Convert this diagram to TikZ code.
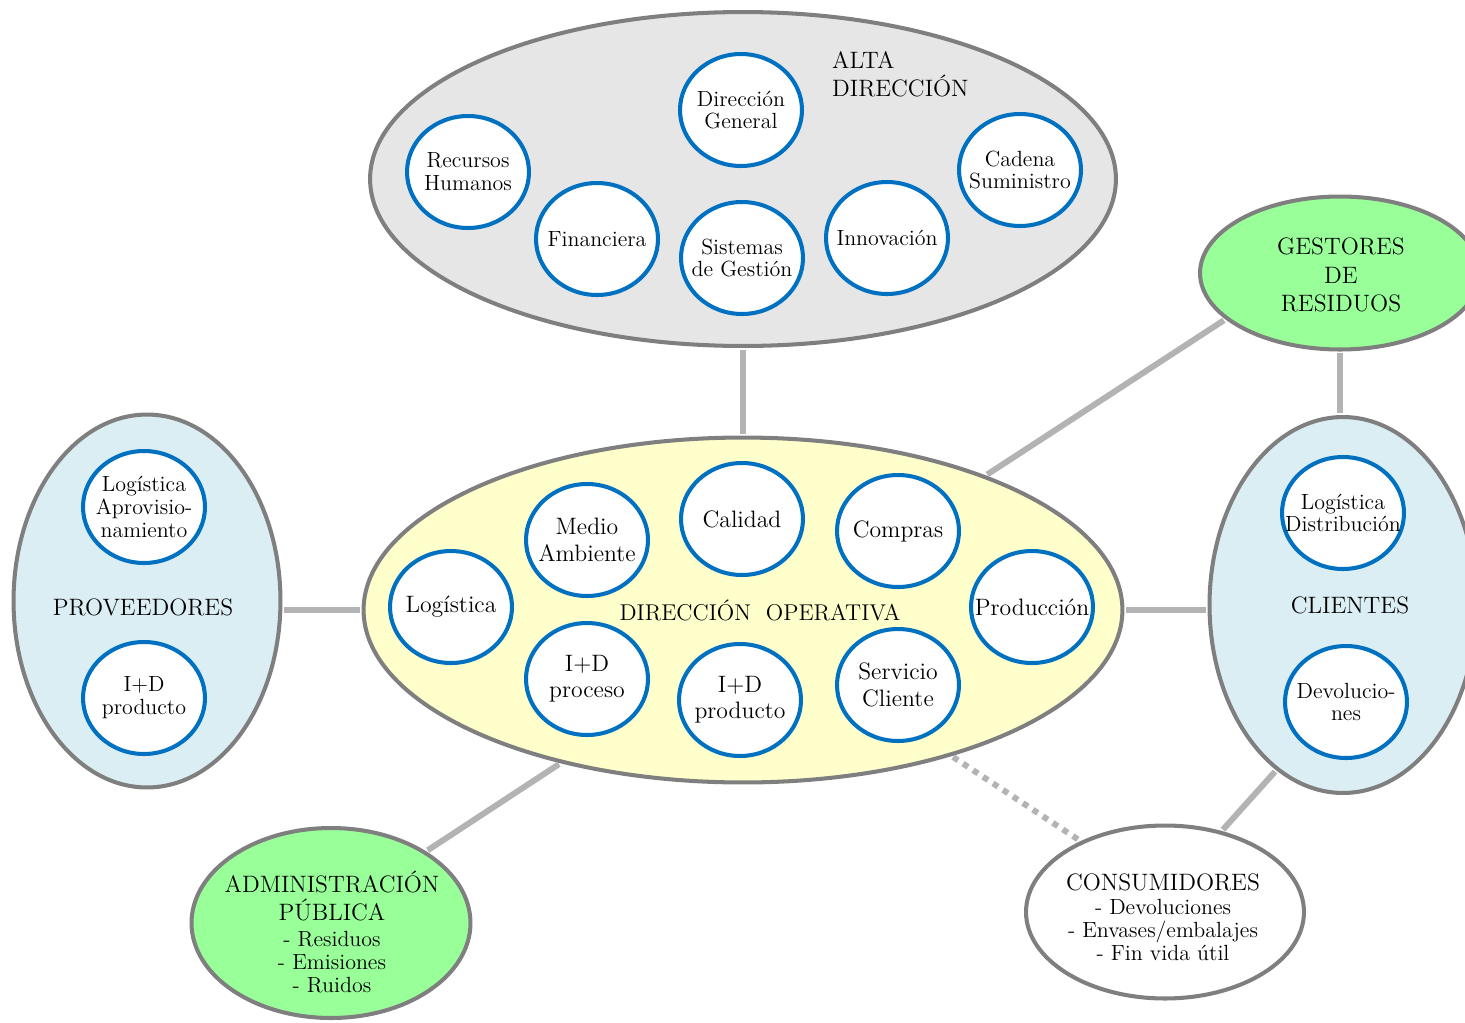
\documentclass[tikz,border=0pt]{standalone}
\usepackage{tikz}
\usepackage{xcolor}
\usetikzlibrary{positioning,shapes.geometric}

\definecolor{rim}{HTML}{7F7F7F}
\definecolor{link}{HTML}{B3B3B3}
\definecolor{ring}{HTML}{0070C0}
\definecolor{altafill}{HTML}{E6E6E6}
\definecolor{opfill}{HTML}{FFFFCC}
\definecolor{extfill}{HTML}{DAEEF3}
\definecolor{greenfill}{HTML}{99FF99}

\newcommand{\bigsize}{\fontsize{13.5}{16}\selectfont}
\newcommand{\subsize}{\fontsize{12.5}{13}\selectfont}

\begin{document}
\begin{tikzpicture}[x=0.02cm,y=-0.02cm,
    area/.style={ellipse,draw=rim,line width=2.3pt},
    unit/.style={ellipse,draw=ring,fill=white,line width=2.3pt,
                 minimum width=2.44cm,minimum height=2.24cm,
                 label={center:#1}},
    every label/.style={align=center,font=\fontsize{12.5}{13}\selectfont},
    title/.style={align=center,font=\bigsize}]
\path[use as bounding box,clip] (0,0) rectangle (1465,1022);

% outer groups
\node[area,fill=altafill,minimum width=14.92cm,minimum height=6.68cm] (AD) at (743,179) {};
\node[area,fill=opfill,minimum width=15.18cm,minimum height=6.9cm] (DO) at (743,610) {};
\node[area,fill=extfill,minimum width=5.34cm,minimum height=7.46cm] (PR) at (147,601) {};
\node[area,fill=extfill,minimum width=5.34cm,minimum height=7.52cm] (CL) at (1343,605) {};
\node[area,fill=greenfill,minimum width=5.6cm,minimum height=3.06cm] (GR) at (1340,273) {};
\node[area,fill=greenfill,minimum width=5.58cm,minimum height=3.8cm] (AP) at (331,923) {};
\node[area,fill=white,minimum width=5.56cm,minimum height=3.46cm] (CO) at (1165,912) {};

% group titles
\node[title,anchor=west,align=left] (ADt) at (826,74) {ALTA\\DIRECCIÓN};
\node[title,font=\fontsize{13}{15}\selectfont] (DOt) at (760,610) {DIRECCIÓN\ \ OPERATIVA};
\node[title] (PRt) at (143,607) {PROVEEDORES};
\node[title] (CLt) at (1350,605) {CLIENTES};
\node[title] (GRt) at (1341,275) {GESTORES\\DE\\RESIDUOS};
\node[title] (APt) at (332,932) {ADMINISTRACIÓN\\PÚBLICA\\[-1pt]
    \subsize - Residuos\\[-3pt] \subsize - Emisiones\\[-3pt] \subsize - Ruidos};
\node[title] (COt) at (1163,917) {CONSUMIDORES\\[-2pt]
    \subsize - Devoluciones\\[-3pt] \subsize - Envases/embalajes\\[-3pt] \subsize - Fin vida útil};

% alta direccion
\begin{scope}
    \node[unit={Dirección\\General}] (dg) at (741,110) {};
    \node[unit={Recursos\\Humanos}] (rh) at (468,172) {};
    \node[unit={Financiera}] (fi) at (597,239) {};
    \node[unit={Sistemas\\de Gestión}] (sg) at (742,258) {};
    \node[unit={Innovación}] (in) at (887,238) {};
    \node[unit={Cadena\\Suministro}] (cs) at (1020,170) {};
\end{scope}

% direccion operativa
\begin{scope}[every label/.style={align=center,font=\fontsize{13.5}{15}\selectfont}]
    \node[unit={Logística}] (lo) at (451,607) {};
    \node[unit={Medio\\Ambiente}] (ma) at (587,540) {};
    \node[unit={Calidad}] (ca) at (742,519) {};
    \node[unit={Compras}] (cm) at (898,531) {};
    \node[unit={Producción}] (pd) at (1032,607) {};
    \node[unit={I+D\\proceso}] (ip) at (587,679) {};
    \node[unit={I+D\\producto}] (id) at (740,700) {};
    \node[unit={Servicio\\Cliente}] (sc) at (898,685) {};
\end{scope}

% proveedores y clientes
\begin{scope}[every node/.append style={minimum width=2.58cm}]
    \node[unit={Logística\\Aprovisio-\\namiento}] (la) at (144,507) {};
    \node[unit={I+D\\producto}] (ipr) at (144,698) {};
    \node[unit={Logística\\Distribución}] (ld) at (1343,513) {};
    \node[unit={Devolucio-\\nes}] (dv) at (1346,702) {};
\end{scope}

% links
\begin{scope}[every edge/.style={draw=link,line width=3.4pt,shorten >=1pt,shorten <=1pt}]
    \path (AD.south) edge (DO.north);
    \path (PR.east |- DO.west) edge (DO.west);
    \path (DO.east) edge (DO.east -| CL.west);
    \path (DO.29) edge (GR.202);
    \path (GR.south) edge (GR.south |- CL.north);
    \path (DO.220) edge (AP.37);
    \path (DO.325) edge[dash pattern=on 3.4pt off 3.4pt] (CO.140);
    \path (CL.248) edge (CO.55);
\end{scope}
\end{tikzpicture}
\end{document}
